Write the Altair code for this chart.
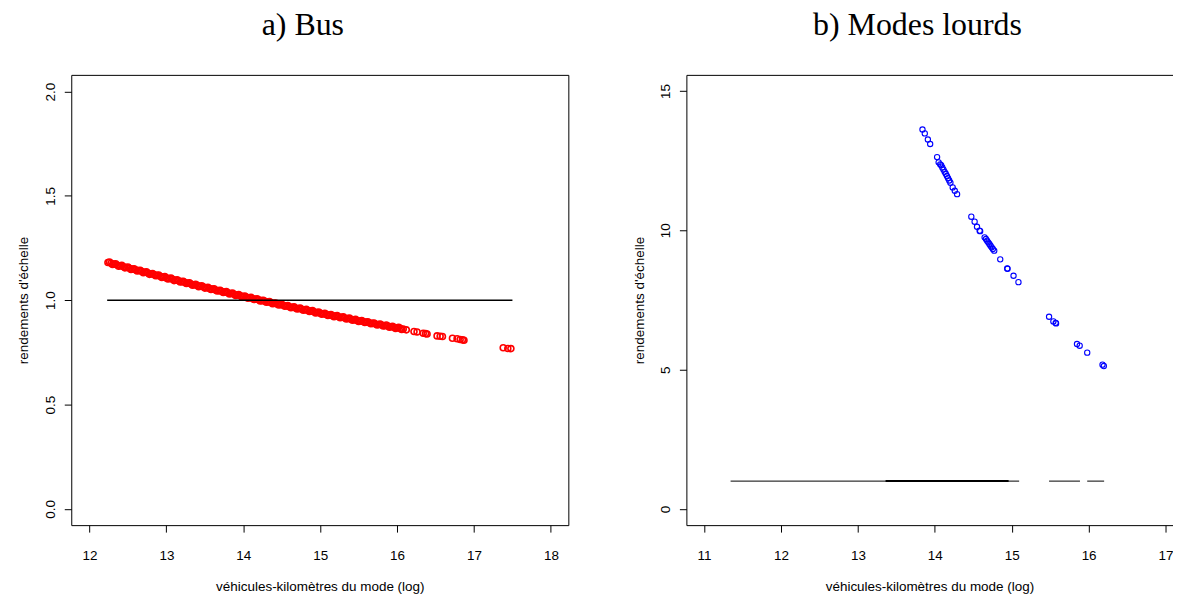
import altair as alt
import pandas as pd

# ---------------- data ----------------
# a) Bus : dense band of estimated returns to scale
BUS_X = [12.24, 12.28, 12.32, 12.36, 12.40, 12.44, 12.48, 12.52, 12.56, 12.60,
         12.64, 12.68, 12.72, 12.76, 12.80, 12.84, 12.88, 12.92, 12.96, 13.00,
         13.04, 13.08, 13.12, 13.16, 13.20, 13.24, 13.28, 13.32, 13.36, 13.40,
         13.44, 13.48, 13.52, 13.56, 13.60, 13.64, 13.68, 13.72, 13.76, 13.80,
         13.84, 13.88, 13.92, 13.96, 14.00, 14.04, 14.08, 14.12, 14.16, 14.20,
         14.24, 14.28, 14.32, 14.36, 14.40, 14.44, 14.48, 14.52, 14.56, 14.60,
         14.64, 14.68, 14.72, 14.76, 14.80, 14.84, 14.88, 14.92, 14.96, 15.00,
         15.04, 15.08, 15.12, 15.16, 15.20, 15.24, 15.28, 15.32, 15.36, 15.40,
         15.44, 15.48, 15.52, 15.56, 15.60, 15.64, 15.68, 15.72, 15.76, 15.80,
         15.84, 15.88, 15.92, 15.96, 16.00, 16.04, 16.08]
BUS_Y = [1.181, 1.177, 1.173, 1.169, 1.165, 1.161, 1.157, 1.153, 1.149, 1.146,
         1.142, 1.138, 1.134, 1.130, 1.126, 1.123, 1.119, 1.115, 1.111, 1.107,
         1.104, 1.100, 1.096, 1.093, 1.089, 1.085, 1.082, 1.078, 1.074, 1.071,
         1.067, 1.064, 1.060, 1.056, 1.053, 1.049, 1.046, 1.042, 1.039, 1.036,
         1.032, 1.029, 1.025, 1.022, 1.018, 1.015, 1.012, 1.008, 1.005, 1.002,
         0.998, 0.995, 0.992, 0.989, 0.985, 0.982, 0.979, 0.976, 0.973, 0.969,
         0.966, 0.963, 0.960, 0.957, 0.954, 0.951, 0.948, 0.945, 0.941, 0.938,
         0.935, 0.932, 0.929, 0.926, 0.924, 0.921, 0.918, 0.915, 0.912, 0.909,
         0.906, 0.903, 0.900, 0.898, 0.895, 0.892, 0.889, 0.886, 0.884, 0.881,
         0.878, 0.876, 0.873, 0.870, 0.868, 0.865, 0.862]
# further bus observations lying between the ones above (slightly scattered)
BUS_MID_X = [12.26, 12.30, 12.34, 12.38, 12.42, 12.46, 12.50, 12.54, 12.58, 12.62,
             12.66, 12.70, 12.74, 12.78, 12.82, 12.86, 12.90, 12.94, 12.98, 13.02,
             13.06, 13.10, 13.14, 13.18, 13.22, 13.26, 13.30, 13.34, 13.38, 13.42,
             13.46, 13.50, 13.54, 13.58, 13.62, 13.66, 13.70, 13.74, 13.78, 13.82,
             13.86, 13.90, 13.94, 13.98, 14.02, 14.06, 14.10, 14.14, 14.18, 14.22,
             14.26, 14.30, 14.34, 14.38, 14.42, 14.46, 14.50, 14.54, 14.58, 14.62,
             14.66, 14.70, 14.74, 14.78, 14.82, 14.86, 14.90, 14.94, 14.98, 15.02,
             15.06, 15.10, 15.14, 15.18, 15.22, 15.26, 15.30, 15.34, 15.38, 15.42,
             15.46, 15.50, 15.54, 15.58, 15.62, 15.66, 15.70, 15.74, 15.78, 15.82,
             15.86, 15.90, 15.94, 15.98, 16.02, 16.06]
BUS_MID_Y = [1.183, 1.171, 1.175, 1.163, 1.167, 1.155, 1.159, 1.147, 1.151, 1.140,
             1.144, 1.132, 1.136, 1.124, 1.128, 1.117, 1.121, 1.109, 1.113, 1.102,
             1.106, 1.094, 1.098, 1.087, 1.091, 1.080, 1.084, 1.072, 1.076, 1.065,
             1.069, 1.058, 1.062, 1.051, 1.055, 1.044, 1.048, 1.037, 1.041, 1.030,
             1.034, 1.023, 1.027, 1.016, 1.020, 1.010, 1.014, 1.003, 1.007, 0.996,
             1.000, 0.990, 0.994, 0.983, 0.987, 0.977, 0.981, 0.971, 0.975, 0.964,
             0.968, 0.958, 0.962, 0.952, 0.956, 0.946, 0.950, 0.939, 0.943, 0.933,
             0.937, 0.927, 0.931, 0.921, 0.926, 0.916, 0.920, 0.910, 0.914, 0.904,
             0.908, 0.898, 0.903, 0.893, 0.897, 0.887, 0.891, 0.881, 0.886, 0.876,
             0.881, 0.871, 0.875, 0.865, 0.870, 0.860]
# isolated bus observations at the large end
BUS_TAIL_X = [16.12, 16.22, 16.26, 16.34, 16.37, 16.39, 16.52, 16.56, 16.59,
              16.72, 16.78, 16.82, 16.85, 16.87, 17.38, 17.44, 17.48]
BUS_TAIL_Y = [0.858, 0.850, 0.848, 0.842, 0.840, 0.838, 0.829, 0.827, 0.826,
              0.818, 0.815, 0.812, 0.810, 0.808, 0.772, 0.769, 0.768]
# horizontal reference line at 1
BUS_LINE_X1 = [12.23]
BUS_LINE_X2 = [17.50]
BUS_LINE_Y = [1.0]

# b) Modes lourds
HEAVY_X = [13.84, 13.87, 13.91, 13.94, 14.03, 14.05, 14.07, 14.083, 14.098, 14.113,
           14.128, 14.143, 14.158, 14.173, 14.188, 14.203, 14.233, 14.26, 14.29,
           14.475, 14.518, 14.549, 14.583, 14.59, 14.648, 14.665, 14.68, 14.695,
           14.71, 14.725, 14.74, 14.755, 14.773, 14.851, 14.942, 14.946, 15.024,
           15.088, 15.486, 15.542, 15.572, 15.577, 15.849, 15.884, 15.982, 16.181,
           16.198]
HEAVY_Y = [13.62, 13.48, 13.26, 13.10, 12.63, 12.44, 12.37, 12.34, 12.26, 12.18,
           12.10, 12.03, 11.95, 11.87, 11.79, 11.71, 11.54, 11.42, 11.30,
           10.49, 10.31, 10.13, 9.99, 9.97, 9.75, 9.69, 9.63, 9.57,
           9.51, 9.45, 9.39, 9.33, 9.27, 8.96, 8.63, 8.62, 8.37,
           8.14, 6.90, 6.73, 6.68, 6.66, 5.92, 5.86, 5.61, 5.18,
           5.13]
HEAVY_SEG_X1 = [11.345, 13.36, 15.486, 15.982]
HEAVY_SEG_X2 = [15.097, 14.96, 15.888, 16.202]
HEAVY_SEG_Y = [1.0, 1.0, 1.0, 1.0]
HEAVY_SEG_W = [1.0, 2.0, 1.0, 1.0]

TITLES = ["a) Bus", "b) Modes lourds"]
X_TITLE = "véhicules-kilomètres du mode (log)"
Y_TITLE = "rendements d'échelle"
BUS_XTICKS = [12, 13, 14, 15, 16, 17, 18]
BUS_YTICKS = [0.0, 0.5, 1.0, 1.5, 2.0]
HEAVY_XTICKS = [11, 12, 13, 14, 15, 16, 17]
HEAVY_YTICKS = [0, 5, 10, 15]

SANS = "Liberation Sans"
SERIF = "Liberation Serif"
FS = 13.5
H = 452


def x_axis(values):
    return alt.Axis(values=values, format="d", title=X_TITLE, grid=False,
                    domain=True, domainColor="black", domainWidth=1,
                    tickSize=7, tickColor="black", tickWidth=1,
                    labelFont=SANS, labelFontSize=FS, labelColor="black",
                    labelPadding=17, labelBaseline="top", labelAlign="center",
                    labelFlush=False, labelOverlap=False,
                    titleFont=SANS, titleFontSize=FS, titleFontWeight="normal",
                    titleColor="black", titleY=66, titleBaseline="alphabetic")


def y_axis(values, fmt):
    return alt.Axis(values=values, format=fmt, title=Y_TITLE, grid=False,
                    domain=True, domainColor="black", domainWidth=1,
                    tickSize=7, tickColor="black", tickWidth=1,
                    labelFont=SANS, labelFontSize=FS, labelColor="black",
                    labelAngle=270, labelAlign="center", labelBaseline="alphabetic",
                    labelPadding=9.5, labelFlush=False, labelOverlap=False,
                    titleFont=SANS, titleFontSize=FS, titleFontWeight="normal",
                    titleColor="black", titleAngle=270, titleAlign="center",
                    titleBaseline="alphabetic", titleX=-43.5, titleY=H / 2)


def frame_axis(orient):
    return alt.Axis(orient=orient, labels=False, ticks=False, grid=False, title=None,
                    domain=True, domainColor="black", domainWidth=1)


def panel(title, dx, width, pts, color, size, sw, seg, xdom, ydom, xt, yt, yfmt,
          right_border):
    xs = alt.Scale(domain=xdom, nice=False, zero=False)
    ys = alt.Scale(domain=ydom, nice=False, zero=False)
    points = alt.Chart(pts).mark_point(shape="circle", filled=False, size=size,
                                       strokeWidth=sw, color=color, opacity=1,
                                       clip=True).encode(
        x=alt.X("x:Q", scale=xs, axis=x_axis(xt)),
        y=alt.Y("y:Q", scale=ys, axis=y_axis(yt, yfmt)),
    )
    rules = alt.Chart(seg).mark_rule(color="black").encode(
        x=alt.X("x1:Q", scale=xs, axis=None),
        x2="x2:Q",
        y=alt.Y("y:Q", scale=ys, axis=None),
        strokeWidth=alt.StrokeWidth("w:Q", scale=None),
    )
    frame_enc = {"x": alt.X("x1:Q", scale=xs, axis=frame_axis("top"))}
    if right_border:
        frame_enc["y"] = alt.Y("y:Q", scale=ys, axis=frame_axis("right"))
    else:
        frame_enc["y"] = alt.Y("y:Q", scale=ys, axis=None)
    frame = alt.Chart(seg).mark_point(opacity=0).encode(**frame_enc)
    return alt.layer(points, rules, frame).resolve_axis(
        x="independent", y="independent"
    ).properties(
        width=width, height=H,
        title=alt.TitleParams(title, font=SERIF, fontSize=32, fontWeight="normal",
                              color="black", anchor="middle", baseline="alphabetic",
                              offset=8, dx=dx),
    )


bus_pts = pd.DataFrame({"x": BUS_X + BUS_MID_X + BUS_TAIL_X,
                        "y": BUS_Y + BUS_MID_Y + BUS_TAIL_Y})
bus_seg = pd.DataFrame({"x1": BUS_LINE_X1, "x2": BUS_LINE_X2, "y": BUS_LINE_Y, "w": [1.5]})
heavy_pts = pd.DataFrame({"x": HEAVY_X, "y": HEAVY_Y})
heavy_seg = pd.DataFrame({"x1": HEAVY_SEG_X1, "x2": HEAVY_SEG_X2, "y": HEAVY_SEG_Y,
                          "w": HEAVY_SEG_W})

left = panel(TITLES[0], -17, 499, bus_pts, "#ff0000", 36, 1.6, bus_seg,
             [11.763, 18.227], [-0.078, 2.08], BUS_XTICKS, BUS_YTICKS, ".1f", True)
right = panel(TITLES[1], -12, 488, heavy_pts, "#0000ff", 28, 1.1, heavy_seg,
              [10.77, 17.091], [-0.58, 15.58], HEAVY_XTICKS, HEAVY_YTICKS, "d", False)

chart = alt.hconcat(left, right, spacing=63.5).properties(
    padding={"left": 8.5, "top": 0, "right": 0, "bottom": 0},
    background="white",
).configure_view(stroke=None)

chart.save("out.html", embed_options={"renderer": "svg", "actions": False})
